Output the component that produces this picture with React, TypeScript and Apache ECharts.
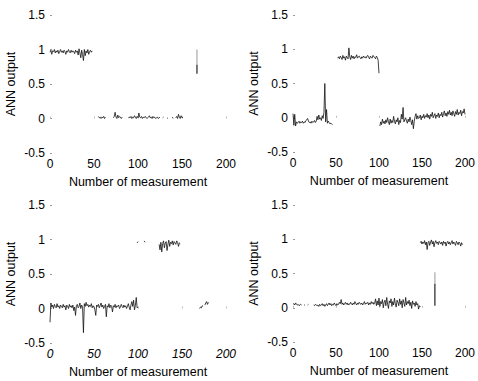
import React, { useEffect, useRef } from "react";
import * as echarts from "echarts";

// ---------- data ----------
const xTicks = [0, 50, 100, 150, 200];
const yTicks = [-0.5, 0, 0.5, 1, 1.5];

// top-left panel
const tlAStart = 0;
const tlA = [0.96,0.99,0.93,0.98,0.97,1.0,0.95,0.98,0.96,0.99,0.94,0.97,1.0,0.96,0.98,0.95,0.99,0.97,0.93,0.98,0.96,1.0,0.97,0.95,0.99,0.96,0.98,0.97,0.94,0.99,0.96,0.98,0.92,1.01,0.95,0.88,0.99,0.93,0.84,1.0,0.91,0.98,0.95,1.0,0.93,0.97,0.99,0.96,0.98];
const tlBStart = 55;
const tlB = [0.03,0.01,0.02,0.0,0.02,0.01,0.03,0.0,0.02,
  null,null,0.02,null,null,null,null,null,0.01,0.03,
  0.09,0.02,0.0,0.05,0.01,0.03,0.02,0.0,0.02,
  null,null,null,null,null,null,0.01,0.02,
  0.01,0.03,0.0,0.02,0.01,0.04,0.02,0.0,0.03,0.01,0.08,0.02,0.01,0.03,0.0,0.02,0.01,0.03,0.02,0.0,0.01,0.02,0.04,0.01,0.02,0.0,0.03,0.01,0.02,0.0,0.01,0.02,0.0,0.01,0.02,
  null,null,0.01,0.02,null,null,null,0.0,0.01,null,null,null,null,0.02,0.0,null,null,0.01,0.03,0.0,0.06,0.02,0.0,0.04,0.01,0.02];
const tlSpikeX = 167;
const tlSpikeGray = [1.0, 0.78];
const tlSpikeBlack = [0.78, 0.65];

// top-right panel
const trAStart = 0;
const trA = [0.06,-0.11,0.05,-0.12,-0.06,-0.08,-0.07,-0.05,-0.08,-0.06,-0.07,-0.05,-0.08,-0.06,-0.07,-0.04,-0.03,-0.01,-0.05,-0.07,-0.06,-0.08,-0.05,-0.07,-0.06,-0.04,-0.07,-0.05,0.02,-0.03,0.04,-0.02,0.0,-0.04,0.03,-0.01,0.08,0.5,-0.06,0.12,-0.08,-0.05,-0.07,-0.09,-0.08,-0.09,-0.1];
const trBStart = 52;
const trB = [0.87,0.89,0.86,0.9,0.88,0.85,0.91,0.87,0.89,0.84,0.9,0.88,0.86,1.02,0.89,0.85,0.91,0.87,0.9,0.86,0.89,0.88,0.92,0.87,0.89,0.9,0.88,0.86,0.89,0.87,0.9,0.88,0.89,0.87,0.9,0.91,0.88,0.86,0.9,0.88,0.87,0.91,0.89,0.88,0.86,0.9,0.88,0.84,0.65];
const trCStart = 101;
const trC = [-0.12,-0.06,-0.1,-0.02,-0.08,-0.05,-0.09,-0.03,-0.07,0.0,-0.06,-0.1,-0.02,-0.08,-0.04,-0.07,0.02,-0.05,-0.09,-0.03,-0.06,0.0,-0.1,-0.04,-0.07,0.05,-0.02,0.15,-0.06,-0.03,0.0,-0.05,-0.08,-0.02,-0.06,0.01,-0.04,-0.1,-0.03,-0.16,-0.05,0.02,0.06,-0.02,0.03,-0.01,0.0,0.04,-0.03,0.02,0.0,0.05,-0.01,0.03,0.01,0.06,0.0,0.04,-0.02,0.05,0.02,0.08,0.0,0.03,0.06,-0.01,0.04,0.02,0.07,0.0,0.05,0.03,0.08,0.01,0.06,0.1,0.03,0.07,0.02,0.09,0.05,0.11,0.04,0.08,0.03,0.1,0.06,0.02,0.09,0.05,0.12,0.04,0.08,0.06,0.11,0.03,0.09,0.07,0.13,0.05];

// bottom-left panel
const blAStart = 0;
const blA = [-0.2,0.08,0.02,0.05,0.0,0.06,0.03,0.01,0.07,0.02,0.04,0.0,0.05,0.03,0.01,0.06,0.02,0.04,-0.02,0.05,0.03,0.0,0.06,0.02,0.04,0.01,0.05,-0.03,0.02,-0.1,0.04,0.06,0.01,0.03,0.08,0.0,0.05,0.02,-0.35,0.07,0.03,0.09,0.04,0.06,0.02,0.05,0.03,0.07,0.01,0.04,0.02,-0.02,-0.1,0.05,0.03,0.06,0.01,0.04,0.08,0.02,0.05,0.0,0.03,0.06,-0.12,0.04,0.02,0.07,0.01,0.05,0.03,-0.05,0.04,0.02,0.06,0.01,0.04,0.03,0.05,0.0,0.02,0.06,0.03,0.01,0.05,0.02,0.04,0.0,0.03,0.07,0.02,-0.02,0.05,0.1,0.03,0.12,-0.02,0.04,0.16,0.01,0.02];
const blBStart = 99;
const blB = [0.95,0.97,null,null,null,null,null,null,0.98,0.96,
  null,null,null,null,null,null,null,null,null,null,null,null,null,null,null,
  0.93,0.85,0.96,0.82,0.94,0.98,0.88,0.95,0.97,0.84,0.93,0.99,0.9,0.96,0.94,0.98,0.92,0.97,0.95,0.93,0.98,0.96,0.9,0.95,0.94];
const blCStart = 170;
const blC = [0.0,0.02,0.01,0.04,0.03,null,0.05,0.08,0.1,0.06,0.09];

// bottom-right panel
const brAStart = 0;
const brA = [0.05,0.06,0.04,0.07,0.05,0.04,0.05,0.03,0.04,0.05,0.04,
  null,null,0.04,0.04,null,null,0.04,0.05,null,null,null,null,null,0.04,0.03,0.05,0.04,
  0.03,0.04,0.02,0.05,0.03,0.04,0.06,0.03,0.05,0.02,0.04,0.06,0.03,0.05,0.07,0.04,0.06,0.03,0.05,0.04,0.07,0.05,0.03,0.06,0.04,0.05,0.08,0.06,0.12,0.05,0.07,0.04,0.06,0.08,0.05,0.07,0.04,0.06,0.05,0.08,0.06,0.04,0.07,0.05,0.09,0.06,0.04,0.07,0.05,0.08,0.06,0.05,0.07,0.04,0.06,0.09,0.05,0.07,0.06,0.08,0.04,0.07,0.05,0.09,0.06,0.08,0.05,0.07,0.13,0.03,0.1,0.04,0.14,0.02,0.09,0.06,0.12,0.0,0.08,0.11,0.03,0.15,0.05,-0.01,0.1,0.07,0.13,0.02,0.09,0.04,0.14,0.06,0.01,0.11,0.08,0.03,0.13,0.05,0.1,0.0,0.12,0.07,0.02,0.15,0.04,0.09,0.06,0.11,0.03,0.08,-0.01,0.1,0.05,0.07,0.02,0.09,0.04,0.06,-0.02,0.03,0.01];
const brSpikeX = 165;
const brSpikeGray = [0.52, 0.35];
const brSpikeBlack = [0.35, 0.03];
const brBStart = 148;
const brB = [0.95,0.97,0.93,0.96,0.94,0.98,0.92,0.96,0.85,0.95,0.97,0.91,0.96,0.99,0.93,0.97,0.89,0.95,0.98,0.94,0.96,0.92,0.97,0.95,0.93,0.96,0.91,0.97,0.94,0.96,0.9,0.95,0.97,0.93,0.96,0.92,0.95,0.98,0.93,0.96,0.94,0.91,0.97,0.95,0.92,0.96,0.94,0.9,0.95,0.92];

const xName = "Number of measurement";
const yName = "ANN output";

// ---------- helpers ----------
const seg = (start: number, arr: (number | null)[]) => arr.map((v, i) => [start + i, v]);
const vert = (x: number, arr: number[]) => arr.map((v) => [x, v]);

const FONT = "Liberation Sans, Arial, sans-serif";

export default function App() {
  const ref = useRef<HTMLDivElement>(null);
  useEffect(() => {
    if (!ref.current) return;
    const chart = echarts.init(ref.current, undefined, { renderer: "svg" });
    const grids = [
      { left: 50, top: 15, width: 176, height: 138 },
      { left: 293, top: 15, width: 178, height: 137 },
      { left: 50, top: 205, width: 176, height: 138 },
      { left: 293, top: 205, width: 178, height: 137 },
    ];
    const xAxis = grids.map((_, i) => ({
      type: "value",
      gridIndex: i,
      min: xTicks[0],
      max: xTicks[xTicks.length - 1],
      interval: 50,
      name: xName,
      nameLocation: "middle",
      nameGap: 22,
      nameTextStyle: { color: "#000", fontFamily: FONT, fontSize: 12.5 },
      axisLine: { show: false },
      axisTick: { show: true, inside: true, length: 2, lineStyle: { color: "#bbb" } },
      splitLine: { show: false },
      axisLabel: {
        color: "#000",
        fontFamily: FONT,
        fontSize: 12,
        margin: 5,
        fontStyle: i === 2 ? "italic" : "normal",
      },
    }));
    const yAxis = grids.map((_, i) => ({
      type: "value",
      gridIndex: i,
      min: yTicks[0],
      max: yTicks[yTicks.length - 1],
      interval: 0.5,
      name: yName,
      nameLocation: "middle",
      nameGap: 33,
      nameTextStyle: { color: "#000", fontFamily: FONT, fontSize: 12.5 },
      axisLine: { show: false },
      axisTick: { show: true, inside: true, length: 2, lineStyle: { color: "#999" } },
      splitLine: { show: false },
      axisLabel: { color: "#000", fontFamily: FONT, fontSize: 12, margin: 5 },
    }));
    const line = (idx: number, data: any[], color = "#111", width = 0.8) => ({
      type: "line",
      xAxisIndex: idx,
      yAxisIndex: idx,
      data,
      showSymbol: false,
      connectNulls: false,
      lineStyle: { color, width },
      silent: true,
    });
    const series = [
      line(0, seg(tlAStart, tlA)),
      line(0, seg(tlBStart, tlB)),
      line(0, vert(tlSpikeX, tlSpikeGray), "#aaa", 1.2),
      line(0, vert(tlSpikeX, tlSpikeBlack), "#222", 1.2),
      line(1, seg(trAStart, trA)),
      line(1, seg(trBStart, trB)),
      line(1, seg(trCStart, trC)),
      line(2, seg(blAStart, blA)),
      line(2, seg(blBStart, blB)),
      line(2, seg(blCStart, blC)),
      line(3, seg(brAStart, brA)),
      line(3, vert(brSpikeX, brSpikeGray), "#aaa", 1.2),
      line(3, vert(brSpikeX, brSpikeBlack), "#222", 1.2),
      line(3, seg(brBStart, brB)),
    ];
    chart.setOption({
      animation: false,
      backgroundColor: "#fff",
      grid: grids,
      xAxis,
      yAxis,
      series,
    });
    return () => chart.dispose();
  }, []);
  return (
    <div
      ref={ref}
      style={{ position: "fixed", left: 0, top: 0, width: 478, height: 381, background: "#fff" }}
    />
  );
}
